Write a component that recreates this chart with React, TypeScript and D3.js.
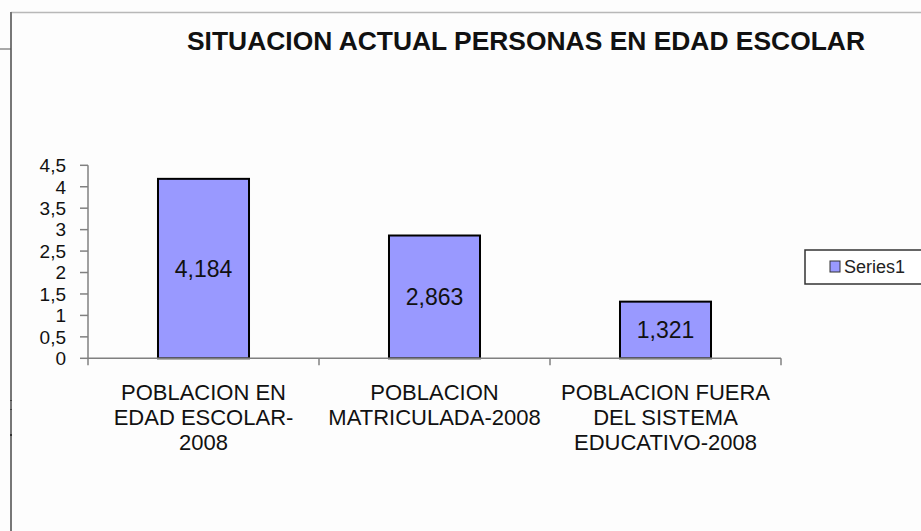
import React from "react";
import * as d3 from "d3";

const title = "SITUACION ACTUAL PERSONAS EN EDAD ESCOLAR";
const categories = [
  "POBLACION EN EDAD ESCOLAR-2008",
  "POBLACION MATRICULADA-2008",
  "POBLACION FUERA DEL SISTEMA EDUCATIVO-2008",
];
const categoryLines = [
  ["POBLACION EN", "EDAD ESCOLAR-", "2008"],
  ["POBLACION", "MATRICULADA-2008"],
  ["POBLACION FUERA", "DEL SISTEMA", "EDUCATIVO-2008"],
];
const values = [4.184, 2.863, 1.321];
const valueLabels = ["4,184", "2,863", "1,321"];
const yTicks = [0, 0.5, 1, 1.5, 2, 2.5, 3, 3.5, 4, 4.5];
const seriesName = "Series1";

const W = 921;
const H = 531;
const font = "'Liberation Sans', Arial, sans-serif";

export default function App() {
  const x = d3
    .scaleBand<string>()
    .domain(categories)
    .range([88, 781])
    .paddingInner(0.606)
    .paddingOuter(0.303);
  const y = d3.scaleLinear().domain([0, 4.5]).range([358.3, 165.3]);
  const step = x.step();
  const fmt = (v: number) => String(v).replace(".", ",");

  return (
    <svg
      width={W}
      height={H}
      style={{ position: "absolute", left: 0, top: 0, background: "#fff" }}
      fontFamily={font}
    >
      <rect x={0} y={0} width={W} height={H} fill="#fdfdfd" />
      {/* frame */}
      <line x1={11} x2={W} y1={12.5} y2={12.5} stroke="#b8b8b8" strokeWidth={1.5} />
      <line x1={11} x2={11} y1={12} y2={H} stroke="#777" strokeWidth={2} />
      <line x1={0} x2={11} y1={49} y2={49} stroke="#555" strokeWidth={1} />
      <line x1={10} x2={12} y1={400.5} y2={400.5} stroke="#444" strokeWidth={1} />
      <line x1={10} x2={12} y1={409.5} y2={409.5} stroke="#444" strokeWidth={1} />
      <line x1={10} x2={12} y1={435} y2={435} stroke="#333" strokeWidth={2} />

      {/* title */}
      <text
        x={526}
        y={50}
        textAnchor="middle"
        fontSize={26}
        fontWeight="bold"
        fill="#111"
        textLength={678}
        lengthAdjust="spacingAndGlyphs"
      >
        {title}
      </text>

      {/* y axis */}
      <line x1={88} x2={88} y1={y(4.5)} y2={y(0)} stroke="#808080" strokeWidth={1.5} />
      {yTicks.map((t) => (
        <g key={t}>
          <line x1={80} x2={88} y1={y(t)} y2={y(t)} stroke="#808080" strokeWidth={1.5} />
          <text
            x={66}
            y={y(t)}
            dy="0.36em"
            textAnchor="end"
            fontSize={19}
            fill="#111"
          >
            {fmt(t)}
          </text>
        </g>
      ))}

      {/* bars */}
      {categories.map((c, i) => {
        const bx = x(c)!;
        const bw = x.bandwidth();
        const top = y(values[i]);
        return (
          <g key={c}>
            <rect
              x={bx}
              y={top}
              width={bw}
              height={y(0) - top}
              fill="#9999ff"
              stroke="#000"
              strokeWidth={2}
            />
            <text
              x={bx + bw / 2}
              y={(top + y(0)) / 2}
              dy="0.36em"
              textAnchor="middle"
              fontSize={23}
              fill="#111"
            >
              {valueLabels[i]}
            </text>
          </g>
        );
      })}

      {/* x axis */}
      <line x1={88} x2={781} y1={y(0)} y2={y(0)} stroke="#808080" strokeWidth={1.5} />
      {[0, 1, 2, 3].map((k) => (
        <line
          key={k}
          x1={88 + k * step}
          x2={88 + k * step}
          y1={y(0)}
          y2={y(0) + 7}
          stroke="#808080"
          strokeWidth={1.5}
        />
      ))}
      {categories.map((c, i) => {
        const cx = x(c)! + x.bandwidth() / 2;
        return (
          <g key={"l" + c}>
            {categoryLines[i].map((ln, j) => (
              <text
                key={j}
                x={cx}
                y={400 + j * 25}
                textAnchor="middle"
                fontSize={22}
                fill="#111"
              >
                {ln}
              </text>
            ))}
          </g>
        );
      })}

      {/* legend */}
      <rect x={805} y={250} width={130} height={34} fill="#fff" stroke="#333" strokeWidth={1.5} />
      <rect x={830} y={261} width={10} height={11} fill="#9999ff" stroke="#333" strokeWidth={1} />
      <text x={844} y={273} fontSize={18} fill="#222">
        {seriesName}
      </text>
    </svg>
  );
}
